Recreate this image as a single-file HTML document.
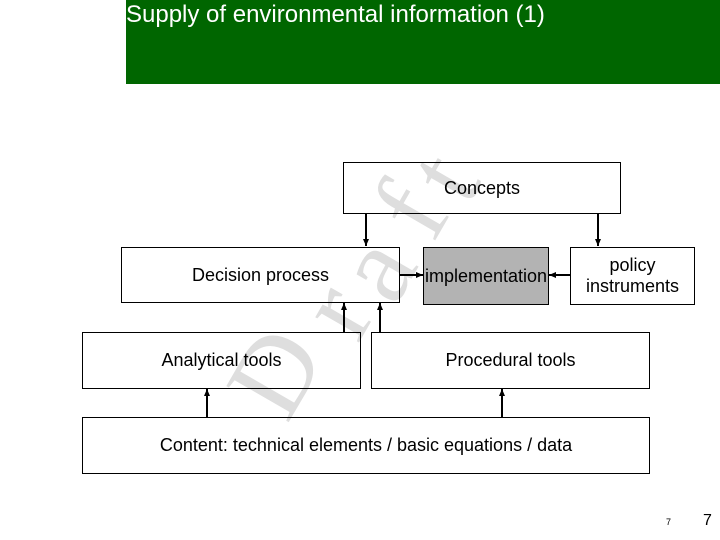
<!DOCTYPE html>
<html><head><meta charset="utf-8"><style>
body{margin:0;width:720px;height:540px;background:#fff;position:relative;overflow:hidden;font-family:"Liberation Sans",Arial,sans-serif}
.hdr{position:absolute;left:126px;top:0;width:594px;height:84px;background:#006600}
.t{position:absolute;left:126px;top:1px;color:#fff;font-size:24px;white-space:nowrap}
.b{position:absolute;border:1px solid #000;background:transparent;display:flex;align-items:center;justify-content:center;text-align:center;font-size:18px;box-sizing:border-box;line-height:21px;white-space:nowrap}
</style></head><body>
<div class="hdr"></div><div class="t">Supply of environmental information (1)</div>
<svg style="position:absolute;left:0;top:0" width="720" height="540">
<g font-family="Liberation Serif,serif" font-size="110" fill="#dedede" text-anchor="middle" dominant-baseline="central">
<text x="275" y="372" transform="rotate(-60 275 372)">D</text>
<text x="335" y="310" transform="rotate(-60 335 310)">r</text>
<text x="375" y="268" transform="rotate(-60 375 268)">a</text>
<text x="410" y="210" transform="rotate(-60 410 210)">f</text>
<text x="443" y="176" transform="rotate(-60 443 176)">t</text>
</g></svg>
<div class="b" style="left:343px;top:162px;width:278px;height:52px">Concepts</div>
<div class="b" style="left:121px;top:247px;width:279px;height:56px">Decision process</div>
<div class="b" style="left:423px;top:247px;width:126px;height:58px;background:#b3b3b3">implementation</div>
<div class="b" style="left:570px;top:247px;width:125px;height:58px">policy<br>instruments</div>
<div class="b" style="left:82px;top:332px;width:279px;height:57px">Analytical tools</div>
<div class="b" style="left:371px;top:332px;width:279px;height:57px">Procedural tools</div>
<div class="b" style="left:82px;top:417px;width:568px;height:57px">Content: technical elements / basic equations / data</div>
<svg style="position:absolute;left:0;top:0" width="720" height="540">
<defs><marker id="a" markerUnits="userSpaceOnUse" markerWidth="8" markerHeight="8" refX="7" refY="4" orient="auto"><path d="M0,1L7,4L0,7z" fill="#000"/></marker></defs>
<g stroke="#000" stroke-width="2" marker-end="url(#a)">
<line x1="366" y1="214" x2="366" y2="246"/>
<line x1="598" y1="214" x2="598" y2="246"/>
<line x1="400" y1="275" x2="423" y2="275"/>
<line x1="570" y1="275" x2="549" y2="275"/>
<line x1="344" y1="332" x2="344" y2="303"/>
<line x1="380" y1="332" x2="380" y2="303"/>
<line x1="207" y1="417" x2="207" y2="389"/>
<line x1="502" y1="417" x2="502" y2="389"/>
</g></svg>
<div style="position:absolute;left:666px;top:517px;font-size:9px">7</div>
<div style="position:absolute;left:703px;top:512px;font-size:16px">7</div>
</body></html>
